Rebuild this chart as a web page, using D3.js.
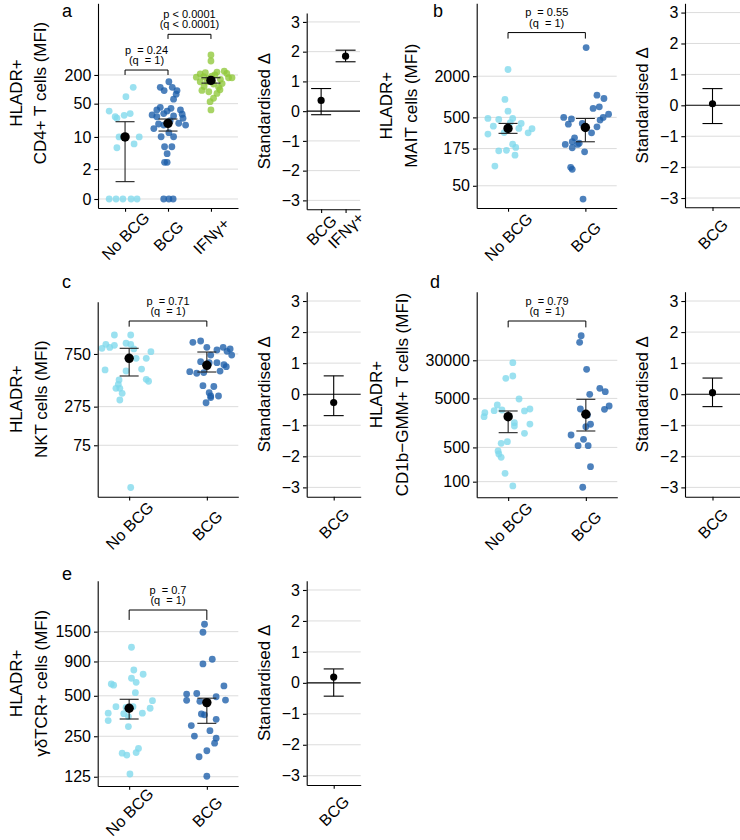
<!DOCTYPE html>
<html><head><meta charset="utf-8">
<script src="https://cdn.jsdelivr.net/npm/d3@7"></script>
<style>
body{margin:0;background:#fff}
svg{display:block}
text{font-family:"Liberation Sans",Arial,Helvetica,sans-serif;fill:#000}
</style>
</head><body>
<svg id="chart" width="740" height="840"></svg>
<script>
// ---------------- DATA ----------------
const groupNames = ["No BCG", "BCG", "IFNγ+"];
const stdTicks = [-3, -2, -1, 0, 1, 2, 3];

// Panel a : HLADR+ CD4+ T cells
const aTicks = [0, 2, 10, 50, 200];
const aNoBCG = [110, 70, 35, 28.5, 31, 26.6, 24.7, 10, 10, 7.1, 5.9, 0, 0, 0, 0, 0];
const aNoBCGJit = [0.19, 0.02, -0.37, -0.02, 0.12, -0.23, -0.19, 0.33, -0.14, 0.21, -0.19, -0.37, -0.21, -0.05, 0.14, 0.28];
const aBCG = [144, 110, 110, 94, 94, 79, 62, 42, 37, 35, 37, 31, 29, 26.6, 27.6, 24.7, 18.7, 17.8, 19.4, 17.8, 10.1, 10.1, 12.3, 6.2, 6.2, 4.4, 2.85, 2.85, 0, 0, 0, 22, 30, 40, 15];
const aBCGJit = [0.02, -0.18, 0.1, -0.09, 0.21, 0.19, 0.13, -0.18, -0.26, -0.02, 0.29, -0.1, -0.37, -0.26, 0.13, 0.35, -0.22, -0.1, 0.25, 0.41, -0.16, 0.13, 0.02, -0.08, 0.09, -0.02, -0.08, -0.02, -0.1, 0.02, 0.12, 0.05, 0.33, 0.07, -0.33];
const aIFN = [525, 393, 210, 224, 230, 240, 175, 175, 185, 162, 144, 129, 114, 110, 89, 82, 65, 55, 37, 180, 144, 200, 132, 95, 98, 190, 215, 170];
const aIFNJit = [0, 0, -0.25, -0.13, 0.14, 0.31, 0.41, 0.49, -0.17, 0.22, -0.25, 0.06, -0.16, 0.18, -0.05, 0.14, 0.06, -0.02, 0, -0.34, -0.09, 0.09, 0.26, -0.21, 0.21, 0.02, 0.37, -0.05];
const aMean = [10, 19.3, 154];
const aLow = [0.94, 13.3, 135];
const aHigh = [20.9, 23.8, 175];
const aP = ["p  = 0.24", "p < 0.0001"];
const aQ = ["(q  = 1)", "(q < 0.0001)"];
const aStdGroups = ["BCG", "IFNγ+"];
const aStd = [0.36, 1.85];
const aStdLow = [-0.12, 1.66];
const aStdHigh = [0.76, 2.05];

// Panel b : HLADR+ MAIT cells
const bTicks = [50, 175, 500, 2000];
const bNoBCG = [2506, 914, 617, 482, 466, 482, 372, 408, 341, 297, 285, 345, 203, 182, 162, 165, 140, 97, 300, 420];
const bNoBCGJit = [0, -0.04, 0, -0.26, -0.12, 0.06, -0.19, 0.17, 0.31, 0.26, -0.26, 0.14, 0.06, 0.1, -0.12, -0.02, 0.09, -0.17, -0.05, 0.03];
const bBCG = [5250, 1057, 944, 713, 675, 557, 499, 456, 499, 475, 398, 408, 364, 297, 251, 220, 201, 201, 180, 157, 210, 93, 87, 32];
const bBCGJit = [0.01, 0.15, 0.24, 0.18, 0.1, 0.3, 0.23, 0.19, -0.28, -0.18, -0.22, -0.04, 0.15, 0.08, -0.14, -0.17, -0.26, -0.1, -0.17, -0.01, -0.08, -0.19, -0.17, -0.03];
const bMean = [345, 356];
const bLow = [292, 220];
const bHigh = [408, 482];
const bP = ["p  = 0.55"];
const bQ = ["(q  = 1)"];
const bStd = [0.05];
const bStdLow = [-0.59];
const bStdHigh = [0.54];

// Panel c : HLADR+ NKT cells
const cTicks = [75, 275, 750];
const cNoBCG = [978, 978, 862, 815, 825, 850, 875, 862, 808, 776, 702, 702, 581, 571, 590, 486, 492, 475, 448, 414, 414, 373, 322, 0];
const cNoBCGJit = [-0.19, 0.02, -0.3, -0.35, -0.25, -0.19, -0.04, 0.02, 0.06, 0.28, 0.22, 0.09, -0.31, -0.04, 0.16, -0.13, 0.22, 0.25, -0.14, -0.17, -0.12, -0.09, -0.12, 0.02];
const cBCG = [887, 903, 827, 795, 827, 808, 780, 738, 738, 666, 655, 655, 614, 635, 564, 549, 556, 570, 436, 429, 378, 352, 352, 302, 340];
const cBCGJit = [-0.18, -0.08, 0, 0.13, 0.21, 0.3, 0.26, 0.32, 0.05, -0.08, 0.03, 0.13, 0.25, 0.22, -0.22, -0.13, -0.04, 0.17, -0.05, 0.09, 0.03, 0.05, 0.15, -0.01, 0.05];
const cMean = [702, 628];
const cLow = [523, 561];
const cHigh = [815, 772];
const cP = ["p  = 0.71"];
const cQ = ["(q  = 1)"];
const cStd = [-0.27];
const cStdLow = [-0.69];
const cStdHigh = [0.59];

// Panel d : HLADR+ CD1b-GMM+ T cells
const dTicks = [100, 500, 5000, 30000];
const dNoBCG = [26800, 14350, 12880, 4870, 3670, 2806, 2900, 3040, 2780, 2557, 2120, 1600, 1368, 1500, 970, 655, 607, 423, 367, 314, 148, 82];
const dNoBCGJit = [0.06, 0.06, -0.03, 0.14, -0.14, -0.18, -0.08, 0.28, 0.21, -0.3, -0.31, 0.08, 0.08, 0.28, 0.21, -0.01, -0.09, -0.13, -0.12, -0.09, -0.04, 0.06];
const dBCG = [95300, 69800, 19650, 6070, 8050, 6860, 3500, 3000, 3040, 2297, 1484, 1325, 897, 733, 542, 542, 202, 77];
const dBCGJit = [-0.06, -0.08, 0.01, 0.05, 0.18, 0.25, 0.3, 0.24, -0.07, 0.02, 0.06, 0, -0.19, -0.03, -0.1, 0.03, 0.06, -0.04];
const dMean = [2120, 2371];
const dLow = [1000, 1082];
const dHigh = [2770, 4800];
const dP = ["p  = 0.79"];
const dQ = ["(q  = 1)"];
const dStd = [0.05];
const dStdLow = [-0.40];
const dStdHigh = [0.52];

// Panel e : HLADR+ gd TCR+ cells
const eTicks = [125, 250, 500, 900, 1500];
const eNoBCG = [1148, 723, 778, 675, 630, 612, 600, 527, 460, 415, 410, 415, 404, 371, 368, 371, 350, 327, 295, 187, 181, 203, 189, 131];
const eNoBCGJit = [0.03, 0.18, 0.06, 0.03, 0.09, -0.23, -0.2, 0.08, 0.3, -0.17, -0.04, 0.05, 0.27, -0.27, -0.07, 0.17, -0.01, -0.27, -0.01, -0.09, -0.03, 0.12, 0.09, 0.01];
const eBCG = [1703, 1485, 935, 863, 592, 515, 520, 492, 465, 463, 455, 366, 361, 334, 300, 275, 251, 242, 222, 195, 176, 126];
const eBCGJit = [-0.03, -0.05, 0.07, -0.05, 0.22, -0.26, -0.13, 0.12, 0.24, -0.26, -0.09, -0.07, -0.03, 0.12, -0.2, 0.04, -0.16, 0.12, 0.1, 0, -0.1, 0];
const eMean = [404, 445];
const eLow = [336, 312];
const eHigh = [471, 480];
const eP = ["p  = 0.7"];
const eQ = ["(q  = 1)"];
const eStd = [0.185];
const eStdLow = [-0.43];
const eStdHigh = [0.45];

// ---------------- STYLE ----------------
const COL = {nobcg: "#7fd8ec", bcg: "#1b5ea9", ifn: "#90c83a"};
const PT_OP = 0.78;
const GRID = "#dcdcdc";
const FONT_TICK = 16, FONT_TITLE = 17, FONT_P = 11, FONT_TAG = 18;

const svg = d3.select("#chart");

function styleAxis(g) {
  g.attr("font-family", null).attr("font-size", null);
  g.select(".domain").attr("stroke", "#000").attr("stroke-width", 1.1);
  g.selectAll(".tick line").attr("stroke", "#000").attr("stroke-width", 1.1);
  g.selectAll(".tick text").attr("font-size", FONT_TICK).attr("fill", "#000");
}

function xLabels(g, off) {
  g.selectAll(".tick text")
    .attr("y", null).attr("dy", null)
    .attr("text-anchor", "middle")
    .attr("dominant-baseline", "central")
    .attr("transform", `translate(0,${off}) rotate(-45)`);
}

function yTitle(lines, xs, yc) {
  lines.forEach((t, i) => {
    svg.append("text").attr("transform", `translate(${xs[i]},${yc}) rotate(-90)`)
      .attr("text-anchor", "middle").attr("font-size", FONT_TITLE).text(t);
  });
}

function mainPanel(o) {
  const g = svg.append("g");
  const x = d3.scalePoint().domain(o.cats).range([o.x0, o.x1]).padding(o.pad);
  const ys = o.yScale;
  const tr = o.tr || (v => v);
  const Y = v => ys(tr(v));
  g.selectAll("line.grid").data(o.ticks).join("line")
    .attr("x1", o.x0).attr("x2", o.x1)
    .attr("y1", d => Y(d)).attr("y2", d => Y(d))
    .attr("stroke", GRID).attr("stroke-width", 1);
  o.groups.forEach((gr, gi) => {
    const cx = x(o.cats[gi]);
    g.append("g").selectAll("circle").data(gr.vals).join("circle")
      .attr("cx", (d, i) => cx + gr.jit[i] * x.step())
      .attr("cy", d => Y(d))
      .attr("r", 3.4)
      .attr("fill", gr.color).attr("fill-opacity", PT_OP);
  });
  o.cats.forEach((c, i) => {
    const cx = x(c), hw = 9.5;
    const eg = g.append("g").attr("stroke", "#222").attr("stroke-width", 1.1);
    eg.append("line").attr("x1", cx).attr("x2", cx).attr("y1", Y(o.low[i])).attr("y2", Y(o.high[i]));
    eg.append("line").attr("x1", cx - hw).attr("x2", cx + hw).attr("y1", Y(o.low[i])).attr("y2", Y(o.low[i]));
    eg.append("line").attr("x1", cx - hw).attr("x2", cx + hw).attr("y1", Y(o.high[i])).attr("y2", Y(o.high[i]));
    g.append("circle").attr("cx", cx).attr("cy", Y(o.mean[i])).attr("r", 4.7).attr("fill", "#000");
  });
  o.brackets.forEach((b, i) => {
    const xa = x(o.cats[b.from]), xb = x(o.cats[b.to]);
    const yb = Y(b.y), yt = Y(b.tip);
    g.append("path").attr("d", `M${xa},${yt}V${yb}H${xb}V${yt}`)
      .attr("fill", "none").attr("stroke", "#000").attr("stroke-width", 1);
    const xm = (xa + xb) / 2;
    g.append("text").attr("x", xm).attr("y", yb - 16.5).attr("text-anchor", "middle")
      .attr("font-size", FONT_P).style("white-space", "pre").text(o.p[i]);
    g.append("text").attr("x", xm).attr("y", yb - 6).attr("text-anchor", "middle")
      .attr("font-size", FONT_P).style("white-space", "pre").text(o.q[i]);
  });
  const yAxis = d3.axisLeft(ys).tickValues(o.ticks.map(tr)).tickFormat((d, i) => o.ticks[i])
    .tickSize(3.7).tickSizeOuter(0).tickPadding(3);
  const gy = g.append("g").attr("transform", `translate(${o.x0},0)`).call(yAxis);
  styleAxis(gy);
  const xAxis = d3.axisBottom(x).tickSize(3.7).tickSizeOuter(0).tickPadding(2);
  const gx = g.append("g").attr("transform", `translate(0,${o.yBottom})`).call(xAxis);
  styleAxis(gx);
  xLabels(gx, o.xlabOff);
  yTitle(o.title, o.titleX, o.titleY || (o.yBottom + o.yTop) / 2);
  svg.append("text").attr("x", o.tag[1]).attr("y", o.tag[2]).attr("font-size", FONT_TAG).text(o.tag[0]);
}

function stdPanel(o) {
  const g = svg.append("g");
  const x = d3.scalePoint().domain(o.cats).range([o.x0, o.x1]).padding(o.pad);
  const y = d3.scaleLinear().domain([-3.3, 3.3]).range([o.yBottom, o.yTop]);
  g.selectAll("line.grid").data(stdTicks).join("line")
    .attr("x1", o.x0).attr("x2", o.x1)
    .attr("y1", d => y(d)).attr("y2", d => y(d))
    .attr("stroke", d => d === 0 ? "#000" : GRID).attr("stroke-width", d => d === 0 ? 1.1 : 1);
  o.cats.forEach((c, i) => {
    const cx = x(c), hw = 10;
    const eg = g.append("g").attr("stroke", "#000").attr("stroke-width", 1.1);
    eg.append("line").attr("x1", cx).attr("x2", cx).attr("y1", y(o.low[i])).attr("y2", y(o.high[i]));
    eg.append("line").attr("x1", cx - hw).attr("x2", cx + hw).attr("y1", y(o.low[i])).attr("y2", y(o.low[i]));
    eg.append("line").attr("x1", cx - hw).attr("x2", cx + hw).attr("y1", y(o.high[i])).attr("y2", y(o.high[i]));
    g.append("circle").attr("cx", cx).attr("cy", y(o.est[i])).attr("r", 3.6).attr("fill", "#000");
  });
  const gy = g.append("g").attr("transform", `translate(${o.x0},0)`)
    .call(d3.axisLeft(y).tickValues(stdTicks).tickFormat(d3.format("d")).tickSize(3.7).tickSizeOuter(0).tickPadding(3));
  styleAxis(gy);
  const gx = g.append("g").attr("transform", `translate(0,${o.yBottom})`)
    .call(d3.axisBottom(x).tickSize(3.7).tickSizeOuter(0));
  styleAxis(gx);
  xLabels(gx, o.xlabOff);
  yTitle(["Standardised Δ"], [o.titleX], (o.yBottom + o.yTop) / 2);
}

// ---------------- PANELS ----------------
const asinhScaleA = d3.scaleLinear().domain([-0.435, 9.454]).range([208, 3.3]);
mainPanel({
  cats: groupNames, x0: 98, x1: 238, pad: 0.63, yTop: 3.3, yBottom: 208,
  yScale: asinhScaleA, tr: Math.asinh, ticks: aTicks,
  groups: [{vals: aNoBCG, jit: aNoBCGJit, color: COL.nobcg}, {vals: aBCG, jit: aBCGJit, color: COL.bcg}, {vals: aIFN, jit: aIFNJit, color: COL.ifn}],
  mean: aMean, low: aLow, high: aHigh,
  brackets: [{from: 0, to: 1, y: 254, tip: 200}, {from: 1, to: 2, y: 1425, tip: 1140}], p: aP, q: aQ,
  title: ["HLADR+", "CD4+ T cells (MFI)"], titleX: [22, 46], titleY: 93, xlabOff: 28, tag: ["a", 62, 17]
});
stdPanel({cats: aStdGroups, x0: 306.7, x1: 360, pad: 0.59, yTop: 13, yBottom: 209.3, est: aStd, low: aStdLow, high: aStdHigh, titleX: 270, xlabOff: 21});

mainPanel({
  cats: groupNames.slice(0, 2), x0: 476.7, x1: 616.7, pad: 0.405, yTop: 3.3, yBottom: 208,
  yScale: d3.scaleLog().domain([10 ** 1.374, 10 ** 4.367]).range([208, 3.3]), ticks: bTicks,
  groups: [{vals: bNoBCG, jit: bNoBCGJit, color: COL.nobcg}, {vals: bBCG, jit: bBCGJit, color: COL.bcg}],
  mean: bMean, low: bLow, high: bHigh,
  brackets: [{from: 0, to: 1, y: 8690, tip: 7100}], p: bP, q: bQ,
  title: ["HLADR+", "MAIT cells (MFI)"], titleX: [392, 417], xlabOff: 29, tag: ["b", 433, 17]
});
stdPanel({cats: ["BCG"], x0: 685, x1: 740, pad: 0.5, yTop: 3.3, yBottom: 207.3, est: bStd, low: bStdLow, high: bStdHigh, titleX: 648, xlabOff: 27});

mainPanel({
  cats: groupNames.slice(0, 2), x0: 97.7, x1: 238.3, pad: 0.405, yTop: 301.7, yBottom: 496.7,
  yScale: d3.scalePow().exponent(0.5).domain([-3.56, 1452]).range([496.7, 301.7]), ticks: cTicks,
  groups: [{vals: cNoBCG, jit: cNoBCGJit, color: COL.nobcg}, {vals: cBCG, jit: cBCGJit, color: COL.bcg}],
  mean: cMean, low: cLow, high: cHigh,
  brackets: [{from: 0, to: 1, y: 1166, tip: 1088}], p: cP, q: cQ,
  title: ["HLADR+", "NKT cells (MFI)"], titleX: [22, 47], xlabOff: 29, tag: ["c", 62, 288]
});
stdPanel({cats: ["BCG"], x0: 306.7, x1: 360.7, pad: 0.5, yTop: 291.7, yBottom: 496.7, est: cStd, low: cStdLow, high: cStdHigh, titleX: 270, xlabOff: 27});

mainPanel({
  cats: groupNames.slice(0, 2), x0: 476.7, x1: 617.3, pad: 0.405, yTop: 291.7, yBottom: 497.3,
  yScale: d3.scaleLog().domain([10 ** 1.681, 10 ** 5.877]).range([497.3, 291.7]), ticks: dTicks,
  groups: [{vals: dNoBCG, jit: dNoBCGJit, color: COL.nobcg}, {vals: dBCG, jit: dBCGJit, color: COL.bcg}],
  mean: dMean, low: dLow, high: dHigh,
  brackets: [{from: 0, to: 1, y: 190000, tip: 141000}], p: dP, q: dQ,
  title: ["HLADR+", "CD1b−GMM+ T cells (MFI)"], titleX: [382, 408], xlabOff: 29, tag: ["d", 430, 288]
});
stdPanel({cats: ["BCG"], x0: 685, x1: 740, pad: 0.5, yTop: 291.7, yBottom: 496.7, est: dStd, low: dStdLow, high: dStdHigh, titleX: 648, xlabOff: 27});

mainPanel({
  cats: groupNames.slice(0, 2), x0: 97.7, x1: 238.3, pad: 0.405, yTop: 580.7, yBottom: 786,
  yScale: d3.scaleLog().domain([10 ** 2.028, 10 ** 3.555]).range([786, 580.7]), ticks: eTicks,
  groups: [{vals: eNoBCG, jit: eNoBCGJit, color: COL.nobcg}, {vals: eBCG, jit: eBCGJit, color: COL.bcg}],
  mean: eMean, low: eLow, high: eHigh,
  brackets: [{from: 0, to: 1, y: 2173, tip: 1833}], p: eP, q: eQ,
  title: ["HLADR+", "γδTCR+ cells (MFI)"], titleX: [22, 47], xlabOff: 26, tag: ["e", 62, 580]
});
stdPanel({cats: ["BCG"], x0: 306.7, x1: 360.7, pad: 0.5, yTop: 580.7, yBottom: 785, est: eStd, low: eStdLow, high: eStdHigh, titleX: 270, xlabOff: 26});
</script>
</body></html>
